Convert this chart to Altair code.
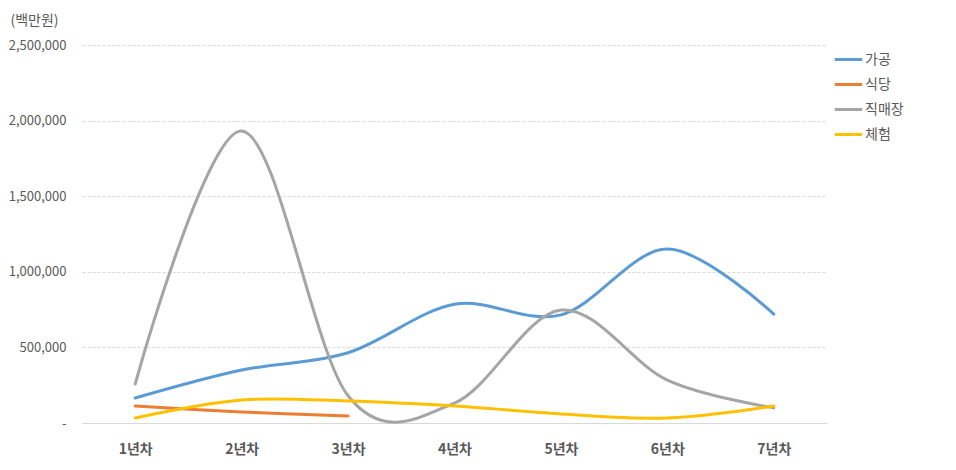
import altair as alt
import pandas as pd

years = ["1년차", "2년차", "3년차", "4년차", "5년차", "6년차", "7년차"]
series_names = ["가공", "식당", "직매장", "체험"]
colors = ["#5B9BD5", "#ED7D31", "#A5A5A5", "#FFC000"]

gagong = [165000, 350000, 465000, 785000, 715000, 1150000, 720000]
sikdang = [112000, 73000, 46000]
jikmaejang = [258000, 1931000, 180000, 132000, 747000, 284000, 100000]
cheheom = [33000, 152000, 145000, 112000, 60000, 33000, 112000]

rows = []
for name, vals in zip(series_names, [gagong, sikdang, jikmaejang, cheheom]):
    for i, v in enumerate(vals):
        rows.append({"연차": years[i], "계열": name, "값": v, "idx": i})
df = pd.DataFrame(rows)

FONT = "Noto Sans CJK KR"

chart = alt.Chart(df).mark_line(interpolate="cardinal", strokeWidth=3, strokeCap="round").encode(
    x=alt.X("연차:N", sort=years, scale=alt.Scale(domain=years, paddingInner=0, paddingOuter=0.5),
            axis=alt.Axis(title=None, labelAngle=0, labelFont=FONT, labelFontSize=14, labelFontWeight="bold",
                          labelColor="#595959", ticks=False, domain=True, domainColor="#D9D9D9",
                          labelPadding=19, grid=False)),
    y=alt.Y("값:Q", scale=alt.Scale(domain=[0, 2500000], nice=False),
            axis=alt.Axis(values=[0, 500000, 1000000, 1500000, 2000000, 2500000],
                          labelExpr="datum.value == 0 ? '-' : format(datum.value, ',')",
                          labelFont=FONT, labelFontSize=13, labelColor="#595959", labelPadding=16,
                          ticks=False, domain=False, grid=True, gridColor="#D9D9D9", gridDash=[3, 2],
                          title="(백만원)", titleAngle=0, titleX=-72, titleY=-18, titleAlign="left",
                          titleFont=FONT, titleFontSize=14, titleFontWeight="normal", titleColor="#595959")),
    color=alt.Color("계열:N", scale=alt.Scale(domain=series_names, range=colors),
                    legend=alt.Legend(title=None, orient="none", legendX=751, legendY=-1,
                                      symbolType="stroke", symbolStrokeWidth=3, symbolSize=750,
                                      labelFont=FONT, labelFontSize=14, labelColor="#595959",
                                      rowPadding=2, labelOffset=1)),
    detail="계열:N",
    order="idx:Q",
).properties(
    width=745, height=378,
    autosize=alt.AutoSizeParams(type="none"),
    padding={"left": 82, "top": 45, "right": 129, "bottom": 47},
).configure(background="white").configure_view(stroke=None)

chart.save("out.html", embed_options={"renderer": "svg", "actions": False})
